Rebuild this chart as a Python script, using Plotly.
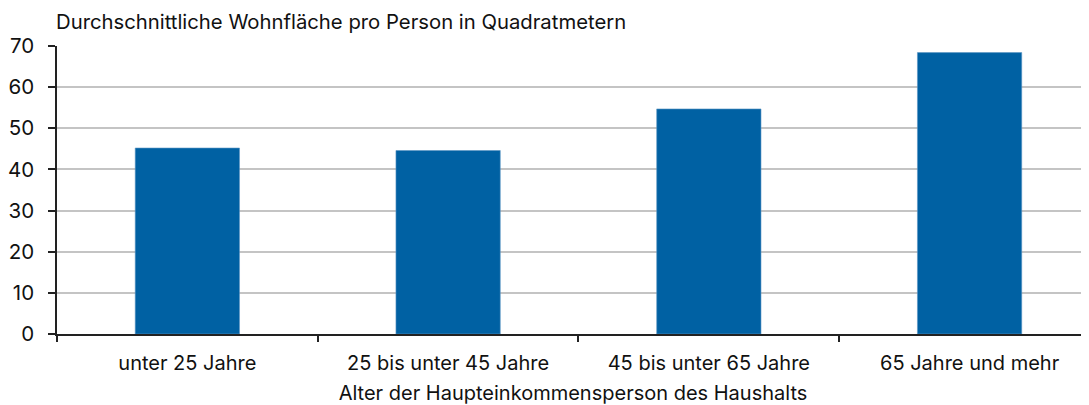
import plotly.graph_objects as go

categories = ["unter 25 Jahre", "25 bis unter 45 Jahre", "45 bis unter 65 Jahre", "65 Jahre und mehr"]
values = [45.2, 44.6, 54.7, 68.4]
y_ticks = [0, 10, 20, 30, 40, 50, 60, 70]

title_text = "Durchschnittliche Wohnfläche pro Person in Quadratmetern"
x_title = "Alter der Haupteinkommensperson des Haushalts"

FONT = "Inter"

fig = go.Figure(go.Bar(
    x=categories, y=values, width=0.4,
    marker=dict(color="#0061A3", line=dict(color="#5d95c4", width=0.6)),
))

# page body has an 8px default margin, so the figure is offset by 8px
fig.update_layout(
    width=1081, height=397,
    margin=dict(l=49, r=0, t=38, b=71),
    plot_bgcolor="white", paper_bgcolor="white",
    font=dict(family=FONT, size=20, color="#111111"),
    showlegend=False,
    bargap=0.6,
)
fig.update_xaxes(
    range=[-0.5, 3.458], type="category", automargin=False,
    showline=True, linecolor="#222222", linewidth=1.5,
    ticks="outside", tickson="boundaries", ticklen=6, tickcolor="#222222", tickwidth=1.5,
    showgrid=False,
    title=dict(text=x_title, font=dict(size=20), standoff=23),
    tickfont=dict(size=20),
    ticklabelstandoff=10,
)
fig.update_yaxes(
    range=[0, 70], tickvals=y_ticks, automargin=False,
    showline=True, linecolor="#222222", linewidth=1.5,
    ticks="outside", ticklen=7, tickcolor="#222222", tickwidth=1.5,
    showgrid=True, gridcolor="#c4c4c4", gridwidth=1.5,
    zeroline=False,
    tickfont=dict(size=20.5),
    ticklabelstandoff=10,
)
fig.add_annotation(
    text=title_text, xref="paper", yref="paper", x=0, y=1,
    xanchor="left", yanchor="bottom", yshift=10, xshift=-3,
    showarrow=False, font=dict(size=20.3, family=FONT),
)

fig.write_html("out.html")
